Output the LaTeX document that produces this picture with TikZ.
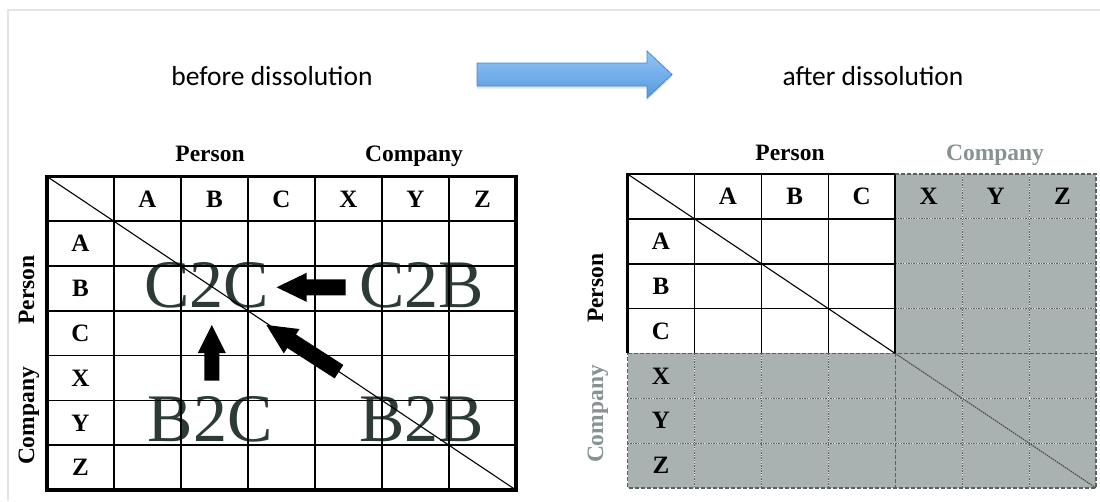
\documentclass[tikz,border=0pt]{standalone}
\usepackage{fontspec}
\setmainfont{Liberation Serif}
\newfontfamily\titlefont{Carlito}
\usetikzlibrary{calc,shadows}

\definecolor{cellgray}{RGB}{169,177,177}
\definecolor{sepgray}{RGB}{90,96,96}
\definecolor{labelgray}{RGB}{135,147,147}
\definecolor{bigtext}{RGB}{44,58,56}
\definecolor{framegray}{RGB}{228,228,228}
\definecolor{arrowtop}{RGB}{146,196,244}
\definecolor{arrowbot}{RGB}{86,154,224}
\definecolor{arrowedge}{RGB}{70,136,204}

% block arrow from #2 (tail) to #3 (tip): shaft half width #4, head half width #5, head length #6
\newcommand\blockarrow[6][fill=black]{%
  \coordinate (#2-hb) at ($(#3)!#6!(#2)$);
  \path[#1] ($(#2)!#4!90:(#3)$) -- ($(#2-hb)!#4!90:(#3)$) -- ($(#2-hb)!#5!90:(#3)$) -- (#3)
    -- ($(#2-hb)!#5!-90:(#3)$) -- ($(#2-hb)!#4!-90:(#3)$) -- ($(#2)!#4!-90:(#3)$) -- cycle;}

\tikzset{
  title/.style={font=\titlefont\fontsize{27.5}{32}\selectfont, inner sep=0},
  hdr/.style={font=\fontsize{25}{29}\selectfont\bfseries, inner sep=0},
  grp/.style={font=\fontsize{23.5}{28}\selectfont\bfseries, inner sep=0, anchor=base},
  sidegrp/.style={grp, rotate=90},
  big/.style={font=\fontsize{68}{70}\selectfont, text=bigtext, inner sep=0, anchor=base},
  thinrule/.style={line width=1.6pt},
  thickrule/.style={line width=3.6pt},
  diag/.style={line width=1.1pt},
  dotsep/.style={draw=cellgray!40!white, line width=1.1pt,
    postaction={draw=sepgray, line width=1.1pt, dash pattern=on 1.4pt off 1.2pt}},
  dashsep/.style={draw=sepgray, line width=1.3pt, dash pattern=on 4pt off 2pt},
  dotdiag/.style={draw=black!70, line width=1.1pt, dash pattern=on 1.6pt off 0.8pt},
}

\begin{document}
\begin{tikzpicture}[x=1pt,y=-1pt]
\useasboundingbox (0,0) rectangle (1100,501);
\fill[white] (0,0) rectangle (1100,501);
% frame
\draw[framegray, line width=1.5pt] (8,501) -- (8,10) -- (1100,10);

% headings and transition arrow
\node[title, anchor=base] (before) at (272,85) {before dissolution};
\node[title, anchor=base] (after) at (873,85) {after dissolution};
\coordinate (flowtail) at (477,74.5);
\coordinate (flowtip) at (672,74.5);
\blockarrow[top color=arrowtop, bottom color=arrowbot, draw=arrowedge, line width=0.8pt,
  drop shadow={opacity=0.22, shadow xshift=0pt, shadow yshift=-2.5pt}]{flowtail}{flowtip}{11.5pt}{23.5pt}{25pt}

% ---------------- left matrix ----------------
\def\Lx{47}\def\Ly{176.5}\def\Lw{67}\def\Lh{44.79}
\node[big] (c2c) at (206.5,307.3) {C2C};
\node[big] (c2b) at (421.6,307.3) {C2B};
\node[big] (b2c) at (210,441.7) {B2C};
\node[big] (b2b) at (421.6,441.7) {B2B};

\foreach \i in {1,...,6}
  \draw[thinrule] ({\Lx+\Lw*\i},\Ly) -- ({\Lx+\Lw*\i},{\Ly+7*\Lh});
\foreach \j in {1,...,6}
  \draw[thinrule] (\Lx,{\Ly+\Lh*\j}) -- ({\Lx+7*\Lw},{\Ly+\Lh*\j});
\coordinate (Ltl) at (\Lx,\Ly);
\coordinate (Lbr) at ({\Lx+7*\Lw},{\Ly+7*\Lh});
\draw[thickrule] (Ltl) rectangle (Lbr);
\draw[diag] (Ltl) -- (Lbr);

\foreach \t [count=\i] in {A,B,C,X,Y,Z}{
  \node[hdr] (Lcol\t) at ({\Lx+\Lw*(\i+0.5)},{\Ly+\Lh*0.5}) {\t};
  \node[hdr] (Lrow\t) at ({\Lx+\Lw*0.5},{\Ly+\Lh*(\i+0.5)}) {\t};
}
\node[grp] (Lperson) at (210,161.7) {Person};
\node[grp] (Lcompany) at (414,161.7) {Company};
\node[sidegrp] (Lsperson) at (34,290) {Person};
\node[sidegrp] (Lscompany) at (34,416) {Company};

% influence arrows
\coordinate (a1t) at (345.5,287.3); \coordinate (a1h) at (276.6,287.3);
\coordinate (a2t) at (211.8,380.7); \coordinate (a2h) at (211.8,325);
\coordinate (a3t) at (339,371.7);   \coordinate (a3h) at (266.4,325);
\blockarrow{a1t}{a1h}{8pt}{14.5pt}{30pt}
\blockarrow{a2t}{a2h}{7.5pt}{14pt}{28pt}
\blockarrow{a3t}{a3h}{8pt}{14.5pt}{30pt}

% ---------------- right matrix ----------------
\def\Rx{627.5}\def\Ry{174}\def\Rw{66.93}\def\Rh{44.86}
\coordinate (Rtl) at (\Rx,\Ry);
\coordinate (Rcorner) at ({\Rx+4*\Rw},{\Ry+4*\Rh});
\coordinate (Rbr) at ({\Rx+7*\Rw},{\Ry+7*\Rh});
\fill[cellgray] ({\Rx+4*\Rw},\Ry) rectangle (Rbr);
\fill[cellgray] (\Rx,{\Ry+4*\Rh}) rectangle (Rbr);

% separators inside the dissolved region
\foreach \i in {5,6}
  \draw[dotsep] ({\Rx+\Rw*\i},\Ry) -- ({\Rx+\Rw*\i},{\Ry+7*\Rh});
\foreach \i in {1,2,3}
  \draw[dotsep] ({\Rx+\Rw*\i},{\Ry+4*\Rh}) -- ({\Rx+\Rw*\i},{\Ry+7*\Rh});
\foreach \j in {5,6}
  \draw[dotsep] (\Rx,{\Ry+\Rh*\j}) -- ({\Rx+7*\Rw},{\Ry+\Rh*\j});
\foreach \j in {1,2,3}
  \draw[dotsep] ({\Rx+4*\Rw},{\Ry+\Rh*\j}) -- ({\Rx+7*\Rw},{\Ry+\Rh*\j});
\draw[dashsep] (\Rx,{\Ry+4*\Rh}) -- ({\Rx+7*\Rw},{\Ry+4*\Rh});
\draw[dashsep] ({\Rx+4*\Rw},{\Ry+4*\Rh}) -- ({\Rx+4*\Rw},{\Ry+7*\Rh});
\draw[dashsep] ({\Rx+4*\Rw},\Ry) -- ({\Rx+7*\Rw},\Ry) -- (Rbr) -- (\Rx,{\Ry+7*\Rh}) -- (\Rx,{\Ry+4*\Rh});
\draw[dotdiag] (Rcorner) -- (Rbr);

% remaining person block
\foreach \i in {1,...,4}
  \draw[thinrule] ({\Rx+\Rw*\i},\Ry) -- ({\Rx+\Rw*\i},{\Ry+4*\Rh});
\foreach \j in {1,2,3}
  \draw[thinrule] (\Rx,{\Ry+\Rh*\j}) -- ({\Rx+4*\Rw},{\Ry+\Rh*\j});
\draw[thinrule] (\Rx,\Ry) -- ({\Rx+4*\Rw},\Ry);
\draw[thickrule] (\Rx,{\Ry-1}) -- (\Rx,{\Ry+4*\Rh});
\draw[diag] (Rtl) -- (Rcorner);

\foreach \t [count=\i] in {A,B,C,X,Y,Z}{
  \node[hdr] (Rcol\t) at ({\Rx+\Rw*(\i+0.5)},{\Ry+\Rh*0.5}) {\t};
  \node[hdr] (Rrow\t) at ({\Rx+\Rw*0.5},{\Ry+\Rh*(\i+0.5)}) {\t};
}
\node[grp] (Rperson) at (790,160.7) {Person};
\node[grp, text=labelgray] (Rcompany) at (995,160.7) {Company};
\node[sidegrp] (Rsperson) at (603,288.3) {Person};
\node[sidegrp, text=labelgray] (Rscompany) at (603,414) {Company};
\end{tikzpicture}
\end{document}
